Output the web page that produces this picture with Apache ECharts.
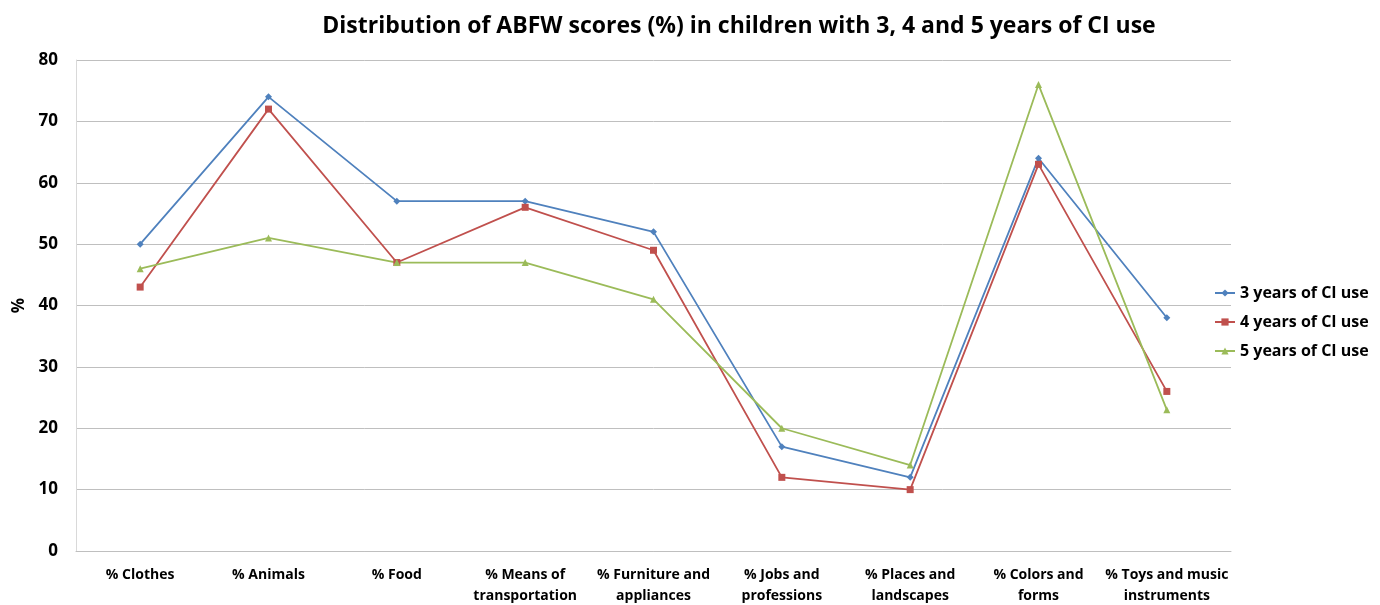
<!DOCTYPE html>
<html><head><meta charset="utf-8">
<script src="https://cdn.jsdelivr.net/npm/echarts@6/dist/echarts.min.js"></script>
<style>html,body{margin:0;padding:0;background:#fff}#c{width:1380px;height:605px}</style>
</head><body><div id="c"></div>
<script>
const categories = ['% Clothes','% Animals','% Food','% Means of\ntransportation','% Furniture and\nappliances','% Jobs and\nprofessions','% Places and\nlandscapes','% Colors and\nforms','% Toys and music\ninstruments'];
const y3 = [50,74,57,57,52,17,12,64,38];
const y4 = [43,72,47,56,49,12,10,63,26];
const y5 = [46,51,47,47,41,20,14,76,23];
const seriesNames = ['3 years of CI use','4 years of CI use','5 years of CI use'];
const yTicks = {min:0,max:80,interval:10};
const font = '"Open Sans", "Liberation Sans", sans-serif';
const chart = echarts.init(document.getElementById('c'));
function mk(name,data,color,symbol,size){
  return {name,type:'line',data,symbol,symbolSize:size,showSymbol:true,
    lineStyle:{color,width:1.8},itemStyle:{color},emphasis:{disabled:true}};
}
chart.setOption({
  animation:false,
  textStyle:{fontFamily:font},
  title:{text:'Distribution of ABFW scores (%) in children with 3, 4 and 5 years of CI use',left:734,textAlign:'center',top:10,
    textStyle:{fontFamily:font,fontSize:23,fontWeight:'bold',color:'#000'}},
  grid:{left:76,right:149,top:60,bottom:54,outerBoundsMode:'none'},
  legend:{orient:'vertical',left:1209,top:280,itemGap:13,itemWidth:20,itemHeight:9,
    textStyle:{fontFamily:font,fontSize:16,fontWeight:'bold',color:'#000'},
    data:seriesNames},
  xAxis:{type:'category',data:categories,boundaryGap:true,
    axisLine:{lineStyle:{color:'#BFBFBF'}},axisTick:{show:false},
    axisLabel:{interval:0,fontFamily:font,fontSize:14,fontWeight:'bold',color:'#000',lineHeight:21,margin:14}},
  yAxis:{type:'value',min:yTicks.min,max:yTicks.max,interval:yTicks.interval,name:'%',nameLocation:'middle',nameGap:46,nameRotate:90,
    nameTextStyle:{fontFamily:font,fontSize:17,fontWeight:'bold',color:'#000'},
    axisLine:{show:true,lineStyle:{color:'#D9D9D9'}},axisTick:{show:false},
    splitLine:{lineStyle:{color:'#BFBFBF'}},
    axisLabel:{fontFamily:font,fontSize:17,fontWeight:'bold',color:'#000',margin:18}},
  series:[
    mk(seriesNames[0],y3,'#4F81BD','diamond',7),
    mk(seriesNames[1],y4,'#C0504D','rect',7),
    mk(seriesNames[2],y5,'#9BBB59','triangle',7)
  ]
});
</script></body></html>
